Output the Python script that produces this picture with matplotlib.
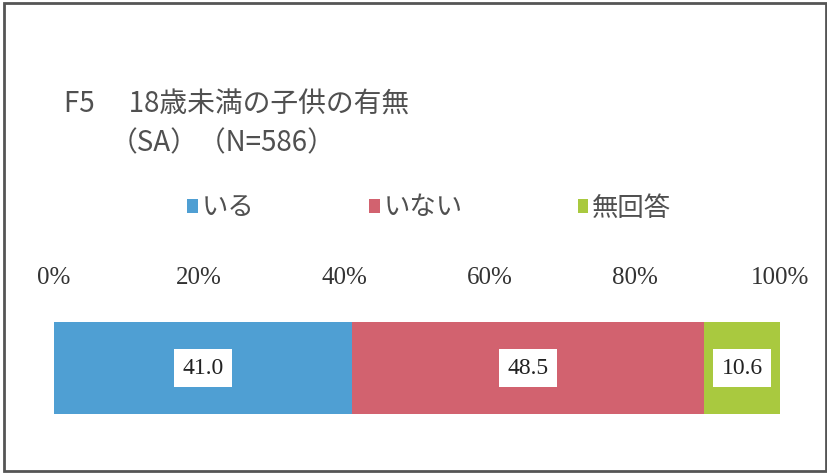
import matplotlib.pyplot as plt
from matplotlib.patches import Rectangle, Patch

plt.rcParams['font.family'] = ['Noto Sans CJK JP', 'DejaVu Sans']

categories = ['いる', 'いない', '無回答']
values = [41.0, 48.5, 10.6]
colors = ['#4f9fd3', '#d2626f', '#a9c93f']
ticks = [0, 20, 40, 60, 80, 100]
tick_labels = ['0%', '20%', '40%', '60%', '80%', '100%']

fig = plt.figure(figsize=(8.28, 4.74), dpi=100)
ax = fig.add_axes([54 / 828, 60 / 474, 726 / 828, 92 / 474])

left = 0
for cat, v, c in zip(categories, values, colors):
    ax.barh(0, v, left=left, height=1.0, color=c, label=cat)
    ax.text(left + v / 2, 0, f'{v:.1f}', ha='center', va='center',
            fontsize=17, family='Liberation Serif', color='#222222',
            bbox=dict(facecolor='white', edgecolor='none', pad=6))
    left += v

ax.set_xlim(0, 100)
ax.set_ylim(-0.5, 0.5)
ax.set_yticks([])
ax.xaxis.tick_top()
ax.set_xticks(ticks)
ax.set_xticklabels(tick_labels, family='Liberation Serif', fontsize=18, color='#333333')
ax.tick_params(axis='x', length=0, pad=24)
for s in ax.spines.values():
    s.set_visible(False)

# title
fig.text(64 / 828, 1 - 105 / 474, 'F5\u3000 18歳未満の子供の有無', fontsize=20,
         color='#505050', ha='left', va='center')
fig.text(110 / 828, 1 - 143 / 474, '（SA）（N=586）', fontsize=20,
         color='#505050', ha='left', va='center')

handles = [Patch(facecolor=c, edgecolor='none') for c in colors]
leg = fig.legend(handles, categories, loc='center left', ncol=3,
                 bbox_to_anchor=(174 / 828, 1 - 208 / 474), frameon=False,
                 fontsize=19, handlelength=0.4, handleheight=0.4, borderpad=0,
                 handletextpad=0.15, columnspacing=4.35, labelcolor='#505050')

# frame around the chart
fig.patches.append(Rectangle((4 / 828, 3 / 474), 822 / 828, 468 / 474,
                             transform=fig.transFigure, fill=False,
                             edgecolor='#555555', linewidth=2))

fig.savefig('out.png', dpi=100)
